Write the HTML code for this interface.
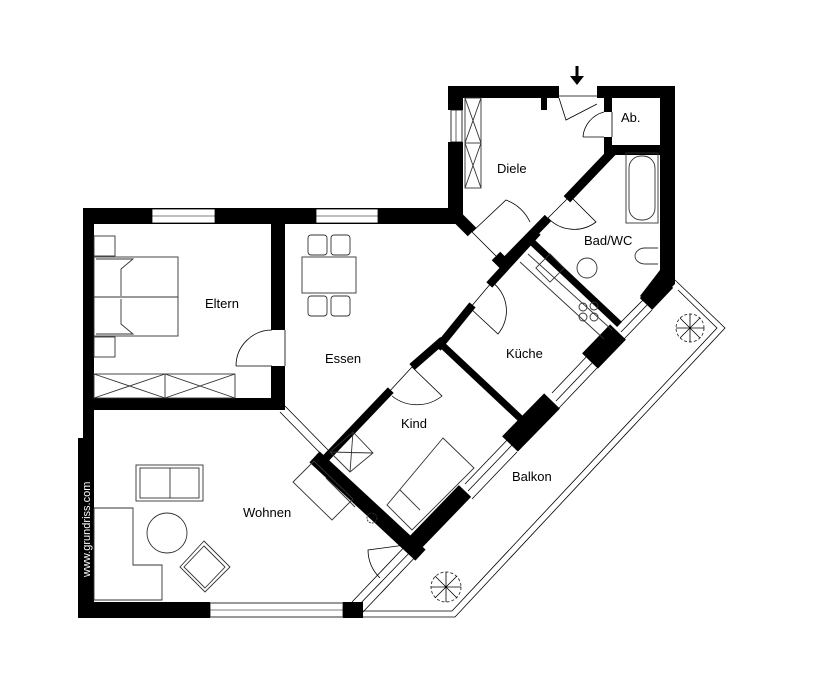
<!DOCTYPE html>
<html><head><meta charset="utf-8"><style>
html,body{margin:0;padding:0;background:#fff;}
svg{display:block;}
text{font-family:"Liberation Sans",sans-serif;font-size:13px;fill:#000;}
</style></head><body>
<svg width="827" height="684" viewBox="0 0 827 684" xmlns="http://www.w3.org/2000/svg">
<g fill="#000">
<rect x="83" y="208" width="380" height="16"/>
<rect x="83" y="208" width="11" height="410"/>
<rect x="78" y="438" width="16" height="180"/>
<rect x="78" y="602" width="132" height="16"/>
<rect x="343" y="602" width="20" height="16"/>
<rect x="271" y="222" width="14" height="108"/>
<rect x="271" y="366" width="14" height="44"/>
<rect x="83" y="398" width="202" height="12"/>
<rect x="448" y="86" width="15" height="24"/>
<rect x="448" y="142" width="15" height="82"/>
<rect x="448" y="86" width="111" height="12"/>
<rect x="597" y="86" width="78" height="12"/>
<rect x="541" y="98" width="6" height="12"/>
<rect x="660" y="86" width="15" height="196"/>
<polygon points="660,270 675,270 675,284 652,307 640,296"/>
<rect x="604" y="98" width="8" height="14"/>
<rect x="604" y="137" width="8" height="18"/>
<rect x="604" y="145" width="60" height="10"/>
</g>
<g fill="#fff" stroke="#000" stroke-width="0.8">
<rect x="152" y="209" width="63" height="14"/>
<rect x="316" y="209" width="62" height="14"/>
<rect x="210" y="603" width="133" height="14"/>
<rect x="451" y="110" width="11" height="32"/>
</g>
<g stroke="#000" stroke-width="0.6">
<line x1="152" y1="216" x2="215" y2="216"/><line x1="316" y1="216" x2="378" y2="216"/>
<line x1="210" y1="610" x2="343" y2="610"/><line x1="456" y1="110" x2="456" y2="142"/>
</g>
<g stroke="#000" stroke-linecap="butt" fill="none">
<line x1="667" y1="282" x2="646" y2="304" stroke-width="17"/>
<line x1="618" y1="332" x2="590" y2="361" stroke-width="22"/>
<line x1="552" y1="401" x2="510" y2="444" stroke-width="22"/>
<line x1="465" y1="491" x2="410" y2="548" stroke-width="17"/>
<line x1="320" y1="462" x2="415" y2="550" stroke-width="15" stroke-linecap="square"/>
<line x1="326" y1="458" x2="388" y2="393" stroke-width="8" stroke-linecap="square"/>
<line x1="412" y1="367" x2="443" y2="340" stroke-width="8"/>
<line x1="440" y1="343" x2="522" y2="420" stroke-width="7" stroke-linecap="square"/>
<line x1="440" y1="345" x2="470" y2="308" stroke-width="8" stroke-linecap="square"/>
<line x1="492" y1="282" x2="535" y2="235" stroke-width="8" stroke-linecap="square"/>
<line x1="532" y1="242" x2="617" y2="322" stroke-width="7" stroke-linecap="square"/>
<line x1="505" y1="262" x2="548" y2="218" stroke-width="9"/>
<line x1="570" y1="196" x2="612" y2="152" stroke-width="9" stroke-linecap="square"/>
<line x1="458" y1="218" x2="472" y2="232" stroke-width="12"/>
<line x1="496" y1="256" x2="508" y2="268" stroke-width="12"/>
</g>
<g stroke="#000" stroke-width="0.8" fill="none">
<line x1="646" y1="297" x2="618" y2="325"/><line x1="652" y1="310" x2="624" y2="339"/><line x1="649" y1="303" x2="621" y2="332"/>
<line x1="590" y1="353" x2="552" y2="393"/><line x1="597" y1="368" x2="559" y2="408"/><line x1="594" y1="361" x2="556" y2="401"/>
<line x1="510" y1="437" x2="465" y2="484"/><line x1="517" y1="452" x2="472" y2="499"/><line x1="513" y1="444" x2="468" y2="491"/>
<line x1="410" y1="541" x2="352" y2="602"/><line x1="420" y1="552" x2="362" y2="613"/><line x1="415" y1="547" x2="357" y2="607"/>
<line x1="285" y1="406" x2="330" y2="452"/><line x1="280" y1="412" x2="323" y2="456"/>
<polyline points="675,280 725,328 455,617 363,617"/>
<polyline points="678,290 717,328 452,611 363,611"/>
<path d="M285 330 L285 366 M236 366 A36 36 0 0 1 272 330 M236 366 L272 366"/>
<line x1="388" y1="393" x2="412" y2="367"/>
<path d="M412 367 L442 396 A40 40 0 0 1 392 396"/>
<path d="M470 308 L492 282 M470 308 L498 334 A36 36 0 0 0 492 282"/>
<path d="M548 218 L570 196 M570 196 L596 222 A36 36 0 0 1 548 218"/>
<path d="M472 232 L496 256 M472 232 L506 200 A44 44 0 0 1 530 222"/>
<path d="M559 96 L597 96 M559 98 L566 120 L597 104"/>
<path d="M612 112 L612 137 M583 137 A28 28 0 0 1 604 112 M583 137 L604 137"/>
<path d="M405 545 L368 550 A40 40 0 0 0 380 578"/>
<line x1="577" y1="66" x2="577" y2="78" stroke-width="3"/>
</g>
<polygon points="570,76 584,76 577,85" fill="#000"/>
<g stroke="#333" stroke-width="0.9" fill="none">
<rect x="94" y="257" width="84" height="79"/>
<line x1="94" y1="297" x2="178" y2="297"/>
<rect x="94" y="236" width="21" height="20"/><rect x="94" y="337" width="21" height="20"/>
<path d="M96 259 L126 259 L133 259 L121 269 L121 296 M96 334 L133 334 L121 324 L121 299"/>
<rect x="94" y="374" width="141" height="24"/>
<line x1="165" y1="374" x2="165" y2="398"/>
<path d="M94 374 L165 398 M94 398 L165 374 M165 374 L235 398 M165 398 L235 374"/>
<rect x="465" y="98" width="16" height="90"/>
<line x1="465" y1="143" x2="481" y2="143"/>
<path d="M465 98 L481 143 M481 98 L465 143 M465 143 L481 188 M481 143 L465 188"/>
<rect x="302" y="257" width="54" height="36"/>
<rect x="308" y="235" width="19" height="20" rx="3"/><rect x="331" y="235" width="19" height="20" rx="3"/>
<rect x="308" y="296" width="19" height="20" rx="3"/><rect x="331" y="296" width="19" height="20" rx="3"/>
<rect x="136" y="465" width="67" height="36"/><rect x="140" y="468" width="59" height="30"/>
<line x1="170" y1="468" x2="170" y2="498"/>
<circle cx="167" cy="533" r="20"/>
<path d="M94 508 L133 508 L133 565 L162 565 L162 600 L94 600 Z"/>
<path d="M204 541 L230 567 L205 592 L180 567 Z"/>
<path d="M204 546 L225 567 L205 588 L184 567 Z"/>
<rect x="626" y="153" width="32" height="70"/>
<rect x="629" y="156" width="26" height="64" rx="12"/>
<path d="M658 248 L645 248 A10 8 0 0 0 645 264 L658 264"/>
<circle cx="587" cy="268" r="10"/>
<path d="M528 254 L612 330 M520 262 L604 339"/>
<rect x="540" y="258" width="20" height="20" transform="rotate(45 550 268)"/>
<circle cx="583" cy="307" r="4"/><circle cx="594" cy="306" r="4"/><circle cx="583" cy="317" r="4"/><circle cx="594" cy="317" r="4"/>
<path d="M443 438 L474 468 L412 530 L387 505 Z"/>
<path d="M400 490 L420 510"/>
<path d="M353 432 L373 453 L350 472 L330 452 Z M353 432 L350 472 M373 453 L330 452"/>
<path d="M314 461 L353 499 L332 520 L293 482 Z"/>
<path d="M326 478 L355 507"/>
<circle cx="690" cy="328" r="14" stroke-dasharray="3 2"/>
<circle cx="446" cy="587" r="15" stroke-dasharray="3 2"/>
<circle cx="372" cy="518" r="5" stroke-dasharray="2 1"/>
</g>
<g stroke="#000" stroke-width="0.8">
<path d="M676 328 L704 328 M690 314 L690 342 M680 318 L700 338 M700 318 L680 338"/>
<path d="M431 587 L461 587 M446 572 L446 602 M435 576 L457 598 M457 576 L435 598"/>
</g>
<text x="497" y="173">Diele</text>
<text x="621" y="122">Ab.</text>
<text x="584" y="245">Bad/WC</text>
<text x="205" y="308">Eltern</text>
<text x="325" y="363">Essen</text>
<text x="506" y="358">Küche</text>
<text x="401" y="428">Kind</text>
<text x="243" y="517">Wohnen</text>
<text x="512" y="481">Balkon</text>
<text transform="translate(90,577) rotate(-90)" style="fill:#fff;font-size:11px;">www.grundriss.com</text>
</svg>
</body></html>
